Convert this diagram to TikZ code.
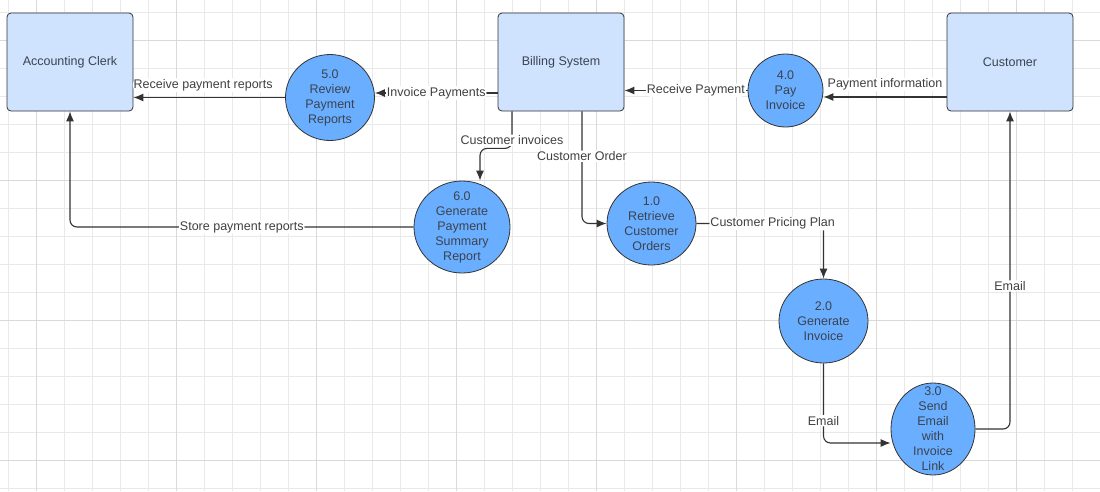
\documentclass[tikz,border=0pt]{standalone}
\usepackage{fontspec}
\setmainfont{Liberation Sans}
\usetikzlibrary{arrows.meta,shapes.geometric}
\definecolor{gridminor}{HTML}{E9E9E9}
\definecolor{gridmajor}{HTML}{D9D9D9}
\definecolor{boxfill}{HTML}{CFE3FF}
\definecolor{procfill}{HTML}{6AAEFF}
\definecolor{inkline}{HTML}{333333}
\definecolor{inktext}{HTML}{3B4350}
\tikzset{
  entity/.style={draw=inkline, line width=0.8pt, fill=boxfill, rounded corners=4pt,
    minimum width=126pt, minimum height=98pt, text=inktext, font=\fontsize{12.5}{15}\selectfont},
  proc/.style={ellipse, draw=inkline, line width=0.8pt, fill=procfill, inner sep=0pt},
  proctext/.style={align=center, text=inktext, inner sep=0pt, font=\fontsize{12.5}{15}\selectfont},
  flow/.style={draw=inkline, line width=1.1pt, rounded corners=7pt, -{Latex[length=10pt,width=8pt]}},
  lbl/.style={fill=white, text=black!75, inner sep=1pt, font=\fontsize{12.5}{15}\selectfont}
}
\newcommand{\procnode}[5]{%
  \node[proc, minimum width=#3pt, minimum height=#4pt] (#1) at (#2) {};
  \node[proctext] (#1-txt) at (#1) {#5};}

\begin{document}
\begin{tikzpicture}[x=1pt, y=-1pt]
			%%%%% START %%%%%
			\useasboundingbox (0,0) rectangle (1100,491);
			\fill[white] (0,0) rectangle (1100,491);
			
			% grid
			\foreach \x in {8,36,...,1100} \draw[gridminor, line width=0.8pt] (\x,0) -- (\x,491);
			\foreach \y in {12,40,...,491} \draw[gridminor, line width=0.8pt] (0,\y) -- (1100,\y);
			\foreach \x in {36,176,...,1100} \draw[gridmajor, line width=0.9pt] (\x,0) -- (\x,491);
			\foreach \y in {40,180,320,460} \draw[gridmajor, line width=0.9pt] (0,\y) -- (1100,\y);
			
			% external entities
			\node[entity] (clerk) at (70,62) {Accounting Clerk};
			\node[entity] (billing) at (561,62) {Billing System};
			\node[entity] (customer) at (1010,62) {Customer};
			
			% processes
			\procnode{p5}{330,97.5}{89}{86}{5.0\\Review\\Payment\\Reports}
			\procnode{p4}{785.5,90.5}{75}{73}{4.0\\Pay\\Invoice}
			\procnode{p6}{462,227}{96}{92}{6.0\\Generate\\Payment\\Summary\\Report}
			\procnode{p1}{651.5,223.5}{89}{83}{1.0\\Retrieve\\Customer\\Orders}
			\procnode{p2}{823.5,321}{89}{84}{2.0\\Generate\\Invoice}
			\procnode{p3}{933,429}{84}{92}{3.0\\Send\\Email\\with\\Invoice\\Link}
			
			% data flows
			\draw[flow] (p5.west) -- (p5.west -| clerk.east)
				node[pos=0.54, lbl, above=5pt] {Receive payment reports};
			\draw[flow] ([yshift=-31pt]billing.west) -- ([yshift=-31pt]billing.west -| p5.east)
				node[midway, lbl] {Invoice Payments};
			\draw[flow] (p4.west) -- (p4.west -| billing.east)
				node[pos=0.42, lbl] {Receive Payment};
			\draw[flow] ([yshift=-35pt]customer.west) -- ([yshift=-35pt]customer.west -| p4.east)
				node[midway, lbl, above=5pt] {Payment information};
			\draw[flow] ([xshift=-49pt]billing.south) -- node[lbl, pos=0.78] {Customer invoices}
				++(0,37) -| ([xshift=18pt]p6.north);
			\draw[flow] ([xshift=21pt]billing.south) |- (p1.west)
				node[lbl, pos=0.2] {Customer Order};
			\draw[flow] (p1.east) -| (p2.north)
				node[lbl, pos=0.3] {Customer Pricing Plan};
			\draw[flow] (p2.south) |- ([yshift=-14pt]p3.west)
				node[lbl, pos=0.36] {Email};
			\draw[flow] (p3.east) -| (customer.south)
				node[lbl, pos=0.725] {Email};
			\draw[flow] (p6.west) -| (clerk.south)
				node[lbl, pos=0.25] {Store payment reports};
			
			%%%%% END %%%%%
		\end{tikzpicture}
\end{document}
